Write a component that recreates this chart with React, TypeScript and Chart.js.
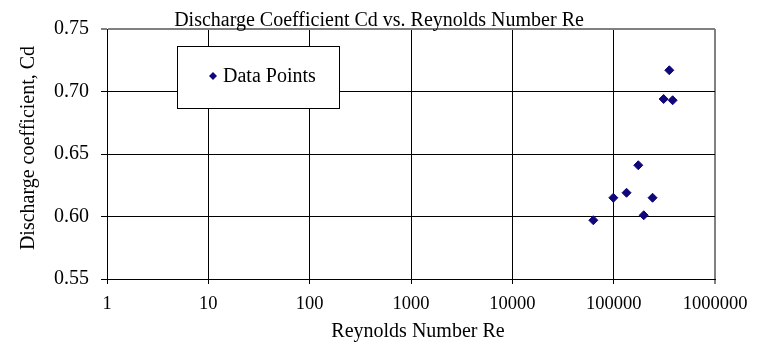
import React, { useEffect, useRef } from 'react';
import { Chart, registerables } from 'chart.js';

Chart.register(...registerables);

// ---- Data ----
const reynolds = [63000, 99300, 134000, 175000, 198000, 242000, 311000, 354000, 382000];
const cdValues = [0.597, 0.615, 0.619, 0.641, 0.601, 0.615, 0.694, 0.717, 0.693];
const xTickValues = [1, 10, 100, 1000, 10000, 100000, 1000000];
const yTickValues = [0.55, 0.6, 0.65, 0.7, 0.75];
const chartTitle = 'Discharge Coefficient Cd vs. Reynolds Number Re';
const xTitle = 'Reynolds Number Re';
const yTitle = 'Discharge coefficient, Cd';
const seriesLabel = 'Data Points';

const FONT = '"Liberation Serif", "Times New Roman", serif';
const MARKER = '#10077a';
const GRAY = '#808080';

Chart.defaults.font.family = FONT;
Chart.defaults.color = '#000';

const overlayPlugin = {
  id: 'overlay',
  beforeDraw(chart: any) {
    const ctx = chart.ctx;
    ctx.save();
    ctx.fillStyle = '#ffffff';
    ctx.fillRect(0, 0, chart.width, chart.height);
    ctx.restore();
  },
  afterDraw(chart: any) {
    const ctx = chart.ctx;
    ctx.save();
    ctx.fillStyle = '#000';
    ctx.font = `20px ${FONT}`;
    ctx.textAlign = 'center';
    ctx.textBaseline = 'alphabetic';
    ctx.fillText(chartTitle, 379, 26);
    ctx.fillText(xTitle, 418, 337);
    ctx.save();
    ctx.translate(34, 148);
    ctx.rotate(-Math.PI / 2);
    ctx.fillText(yTitle, 0, 0);
    ctx.restore();

    // legend box
    const lx = 177.5, ly = 46.5, lw = 162, lh = 62;
    ctx.fillStyle = '#fff';
    ctx.fillRect(lx, ly, lw, lh);
    ctx.strokeStyle = '#000';
    ctx.lineWidth = 1;
    ctx.strokeRect(lx, ly, lw, lh);
    const mx = 213, my = 76, r = 4;
    ctx.fillStyle = MARKER;
    ctx.beginPath();
    ctx.moveTo(mx, my - r);
    ctx.lineTo(mx + r, my);
    ctx.lineTo(mx, my + r);
    ctx.lineTo(mx - r, my);
    ctx.closePath();
    ctx.fill();
    ctx.fillStyle = '#000';
    ctx.textAlign = 'left';
    ctx.fillText(seriesLabel, 223, 82);
    ctx.restore();
  },
};

export default function App() {
  const canvasRef = useRef<HTMLCanvasElement | null>(null);

  useEffect(() => {
    const canvas = canvasRef.current;
    if (!canvas) return;
    const points = reynolds.map((x, i) => ({ x, y: cdValues[i] }));
    const chart = new Chart(canvas, {
      type: 'scatter',
      data: {
        datasets: [
          {
            label: seriesLabel,
            data: points,
            pointStyle: 'rectRot',
            pointRadius: 4.5,
            pointBackgroundColor: MARKER,
            pointBorderColor: MARKER,
            pointBorderWidth: 1,
            showLine: false,
          },
        ],
      },
      options: {
        responsive: false,
        animation: false,
        devicePixelRatio: 1,
        font: { family: FONT },
        layout: { padding: { top: 29, right: 48, left: 0, bottom: 0 } },
        plugins: {
          legend: { display: false },
          title: { display: false },
          tooltip: { enabled: false },
        },
        scales: {
          x: {
            type: 'logarithmic',
            min: 1,
            max: 1000000,
            afterBuildTicks: (s: any) => {
              s.ticks = xTickValues.map((value) => ({ value }));
            },
            afterFit: (s: any) => {
              s.height = 75;
            },
            ticks: {
              callback: (v: any) => String(v),
              color: '#000',
              font: { family: FONT, size: 18.5, style: 'normal', weight: 'normal' },
              padding: 9,
              maxRotation: 0,
              autoSkip: false,
            },
            grid: {
              color: (c: any) => (c.tick && c.tick.value === 1000000 ? GRAY : '#000'),
              lineWidth: (c: any) => (c.tick && c.tick.value === 1000000 ? 2 : 1),
              tickLength: 5,
            },
            border: { color: '#000', width: 1 },
          },
          y: {
            type: 'linear',
            min: 0.55,
            max: 0.75,
            afterBuildTicks: (s: any) => {
              s.ticks = yTickValues.map((value) => ({ value }));
            },
            afterFit: (s: any) => {
              s.width = 107;
            },
            ticks: {
              callback: (v: any) => Number(v).toFixed(2),
              color: '#000',
              font: { family: FONT, size: 20, style: 'normal', weight: 'normal' },
              padding: 12,
            },
            grid: {
              color: (c: any) => (c.tick && Math.abs(c.tick.value - 0.75) < 1e-9 ? GRAY : '#000'),
              lineWidth: (c: any) => (c.tick && Math.abs(c.tick.value - 0.75) < 1e-9 ? 2 : 1),
              tickLength: 6,
            },
            border: { color: '#000', width: 1 },
          },
        },
      },
      plugins: [overlayPlugin],
    });
    return () => chart.destroy();
  }, []);

  return (
    <div style={{ position: 'absolute', left: 0, top: 0, width: 763, height: 354 }}>
      <canvas ref={canvasRef} width={763} height={354} style={{ width: 763, height: 354 }} />
    </div>
  );
}
